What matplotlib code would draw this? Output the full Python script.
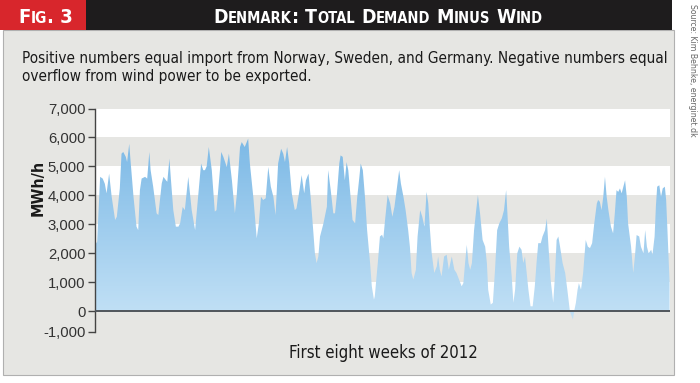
import matplotlib
matplotlib.use('Agg')
import matplotlib.pyplot as plt
import numpy as np
from matplotlib.patches import Rectangle, PathPatch
from matplotlib.colors import LinearSegmentedColormap

# hour of the period (first eight weeks of 2012) and net demand in MWh/h
hours = [0, 5, 12, 18, 23, 27, 31, 33, 39, 47, 51, 58, 62, 66, 72, 75, 80, 83, 90, 97,
         101, 105, 109, 117, 122, 127, 130, 136, 144, 148, 156, 160, 166, 169, 174, 177, 183, 189, 195, 199,
         205, 210, 218, 226, 234, 241, 248, 253, 257, 261, 266, 273, 280, 284, 292, 295, 300, 308, 313, 320,
         327, 331, 339, 343, 350, 358, 362, 370, 378, 383, 388, 393, 399, 405, 411, 417, 422, 428, 435, 440,
         444, 449, 454, 460, 467, 471, 478, 483, 489, 493, 499, 504, 510, 514, 518, 522, 526, 534, 542, 545,
         551, 557, 561, 565, 571, 574, 579, 584, 588, 592, 596, 602, 608, 613, 618, 621, 626, 631, 636, 643,
         647, 652, 654, 661, 666, 671, 674, 678, 684, 690, 695, 700, 705, 711, 715, 721, 726, 732, 736, 740,
         744, 750, 754, 760, 765, 770, 775, 779, 783, 787, 793, 799, 802, 806, 810, 816, 822, 827, 834, 840,
         845, 851, 857, 861, 865, 869, 873, 877, 881, 886, 891, 895, 900, 906, 912, 916, 919, 925, 930, 935,
         940, 945, 951, 956, 961, 964, 968, 974, 978, 982, 987, 992, 997, 1001, 1005, 1009, 1013, 1018, 1023, 1028,
         1032, 1036, 1042, 1046, 1052, 1056, 1060, 1065, 1071, 1075, 1079, 1083, 1087, 1093, 1099, 1104, 1110, 1114, 1117, 1120,
         1124, 1128, 1131, 1136, 1141, 1147, 1152, 1157, 1162, 1167, 1173, 1176, 1180, 1184, 1188, 1192, 1196, 1200, 1206, 1211,
         1215, 1219, 1223, 1227, 1231, 1235, 1239, 1243, 1246, 1253, 1258, 1262, 1266, 1272, 1276, 1282, 1286, 1290, 1294, 1300,
         1303, 1308, 1311, 1314, 1319, 1323, 1327, 1332, 1335, 1338, 1343]
mwh = [2290, 2400, 4640, 4580, 4400, 4070, 4520, 4750, 3950, 3150, 3260, 4240, 5440, 5500, 5330, 5150, 5780, 5210, 3950, 2920,
       2800, 4180, 4580, 4640, 4580, 5500, 4870, 4300, 3380, 3320, 4410, 4640, 4520, 4470, 5270, 4640, 3490, 2920, 2920, 3035,
       3600, 3490, 4640, 3490, 2800, 3950, 5100, 4870, 4870, 5000, 5670, 4870, 3440, 3490, 4870, 5500, 5330, 4980, 5440, 4520,
       3380, 3950, 5670, 5840, 5670, 5960, 5100, 3950, 2520, 3035, 3950, 3840, 3900, 4980, 4300, 3950, 3320, 5100, 5610, 5440,
       5150, 5670, 5100, 4070, 3490, 3550, 4180, 4700, 4070, 4520, 4750, 3950, 2800, 2000, 1660, 1890, 2580, 3035, 3610, 4870,
       4180, 3380, 3380, 3950, 5100, 5380, 5330, 4520, 5150, 4870, 4180, 3150, 3035, 3950, 4640, 5100, 4870, 3950, 2800, 1660,
       860, 400, 515, 1660, 2580, 2640, 2520, 3150, 4010, 3720, 3260, 3610, 4180, 4870, 4410, 3950, 3490, 2800, 2230, 1320,
       1090, 1430, 2580, 3490, 3260, 2920, 4120, 3720, 2800, 2000, 1320, 1550, 1890, 1430, 1200, 1890, 1950, 1430, 1890, 1430,
       1320, 1090, 860, 970, 1660, 2290, 1660, 1430, 1660, 2800, 3490, 4010, 3380, 2460, 2230, 1660, 745, 230, 290, 1430,
       2800, 3035, 3210, 3490, 4180, 3380, 2230, 1200, 290, 745, 2000, 2230, 2120, 1660, 1890, 1320, 745, 170, 170, 860,
       1660, 2350, 2350, 2580, 2800, 3200, 2230, 1090, 290, 1200, 2460, 2580, 2230, 1660, 1320, 745, 0, -170, -290, 0,
       290, 745, 970, 745, 1320, 2460, 2230, 2180, 2350, 3035, 3720, 3840, 3780, 3490, 3950, 4640, 3950, 3490, 2920, 2690,
       3380, 4180, 4120, 4240, 4070, 4300, 4520, 3950, 3035, 2230, 1320, 1890, 2630, 2580, 2230, 2000, 2800, 2230, 2000, 2120,
       1950, 2580, 3610, 4300, 4350, 3950, 4240, 4300, 3840, 2800, 1000]

y_ticks = [0, 1000, 2000, 3000, 4000, 5000, 6000, 7000]
y_bottom = -700  # the chart's lowest tick, printed as -1,000

title_parts = [("D", "L"), ("ENMARK", "S"), (": ", "L"), ("T", "L"), ("OTAL", "S"), (" ", "L"),
               ("D", "L"), ("EMAND", "S"), (" ", "L"), ("M", "L"), ("INUS", "S"), (" ", "L"),
               ("W", "L"), ("IND", "S")]
fig_parts = [("F", "L"), ("IG", "S"), (". 3", "L")]
subtitle = ["Positive numbers equal import from Norway, Sweden, and Germany. Negative numbers equal",
            "overflow from wind power to be exported."]

NARROW = dict(family='DejaVu Sans', stretch='condensed')
PANEL = '#e6e6e3'

W, H = 700, 383
fig = plt.figure(figsize=(7, 3.83), dpi=100)
fig.patch.set_facecolor('white')

# grey panel and the header bar
fig.patches.append(Rectangle((3 / W, 1 - 375 / H), 671 / W, 345 / H, transform=fig.transFigure,
                             facecolor=PANEL, edgecolor='#b0b0b0', lw=0.8, zorder=-5))
fig.patches.append(Rectangle((0, 1 - 30 / H), 86 / W, 30 / H, transform=fig.transFigure,
                             facecolor='#d8262c', edgecolor='none', zorder=-4))
fig.patches.append(Rectangle((86 / W, 1 - 30 / H), 586 / W, 30 / H, transform=fig.transFigure,
                             facecolor='#1e1c1d', edgecolor='none', zorder=-4))


def caps_text(parts, xc, yb, big, small, ha='center'):
    r = fig.canvas.get_renderer()
    placed = []
    off = 0
    for s, k in parts:
        t = fig.text(0, yb, s, fontsize=big if k == "L" else small, color='white',
                     weight='bold', va='baseline', ha='left', **NARROW)
        placed.append((t, off))
        off += t.get_window_extent(r).width / fig.bbox.width
    x0 = xc - off / 2 if ha == 'center' else xc
    for t, o in placed:
        t.set_x(x0 + o)


caps_text(title_parts, 378 / W, 1 - 23 / H, 14, 10.5)
caps_text(fig_parts, 18 / W, 1 - 23 / H, 14.5, 11, ha='left')

for i, line in enumerate(subtitle):
    fig.text(22 / W, 1 - (58 + 18 * i) / H, line, fontsize=11,
             color='#1a1a1a', va='center', ha='left', **NARROW)

fig.text(692 / W, 1 - 4 / H, 'Source: Kim Behnke, energinet.dk', rotation=-90,
         fontsize=6.2, color='#666666', va='top', ha='center', **NARROW)

ax = fig.add_axes([95 / W, 1 - 331.5 / H, 575 / W, 223 / H])
ax.set_facecolor(PANEL)
for lo in (0, 2000, 4000, 6000):
    ax.axhspan(lo, lo + 1000, color='white', lw=0, zorder=0)

# area with a vertical blue gradient
poly = ax.fill_between(hours, mwh, 0, facecolor='none', edgecolor='none')
clip = PathPatch(poly.get_paths()[0], transform=ax.transData, facecolor='none', edgecolor='none')
ax.add_patch(clip)
cmap = LinearSegmentedColormap.from_list('blue', ['#c8e4f7', '#7cb9e6'])
grad = np.linspace(0, 1, 256).reshape(-1, 1)
im = ax.imshow(grad, extent=[0, 1344, -700, 6000], origin='lower', aspect='auto', cmap=cmap, zorder=2)
im.set_clip_path(clip)

ax.axhline(0, color='#50565b', lw=1.4, zorder=3)

ax.set_xlim(0, 1344)
ax.set_ylim(y_bottom, 7000)
ax.set_xticks([])
ax.set_yticks([y_bottom] + y_ticks)
ax.set_yticklabels(['-1,000'] + [f'{v:,}' for v in y_ticks])
ax.tick_params(axis='y', length=5, width=1, color='#444444', labelsize=10.7, labelcolor='#333333', pad=2)
for lab in ax.get_yticklabels():
    lab.set_family('Liberation Sans')
for sp in ('top', 'right', 'bottom'):
    ax.spines[sp].set_visible(False)
ax.spines['left'].set_color('#444444')
ax.spines['left'].set_linewidth(1)

fig.text(38 / W, 1 - 188 / H, 'MWh/h', rotation=90, weight='bold', fontsize=11.5,
         color='#1a1a1a', va='center', ha='center', **NARROW)
fig.text(383 / W, 1 - 353 / H, 'First eight weeks of 2012', fontsize=12,
         color='#1a1a1a', va='center', ha='center', **NARROW)

fig.savefig('out.png', dpi=100)
